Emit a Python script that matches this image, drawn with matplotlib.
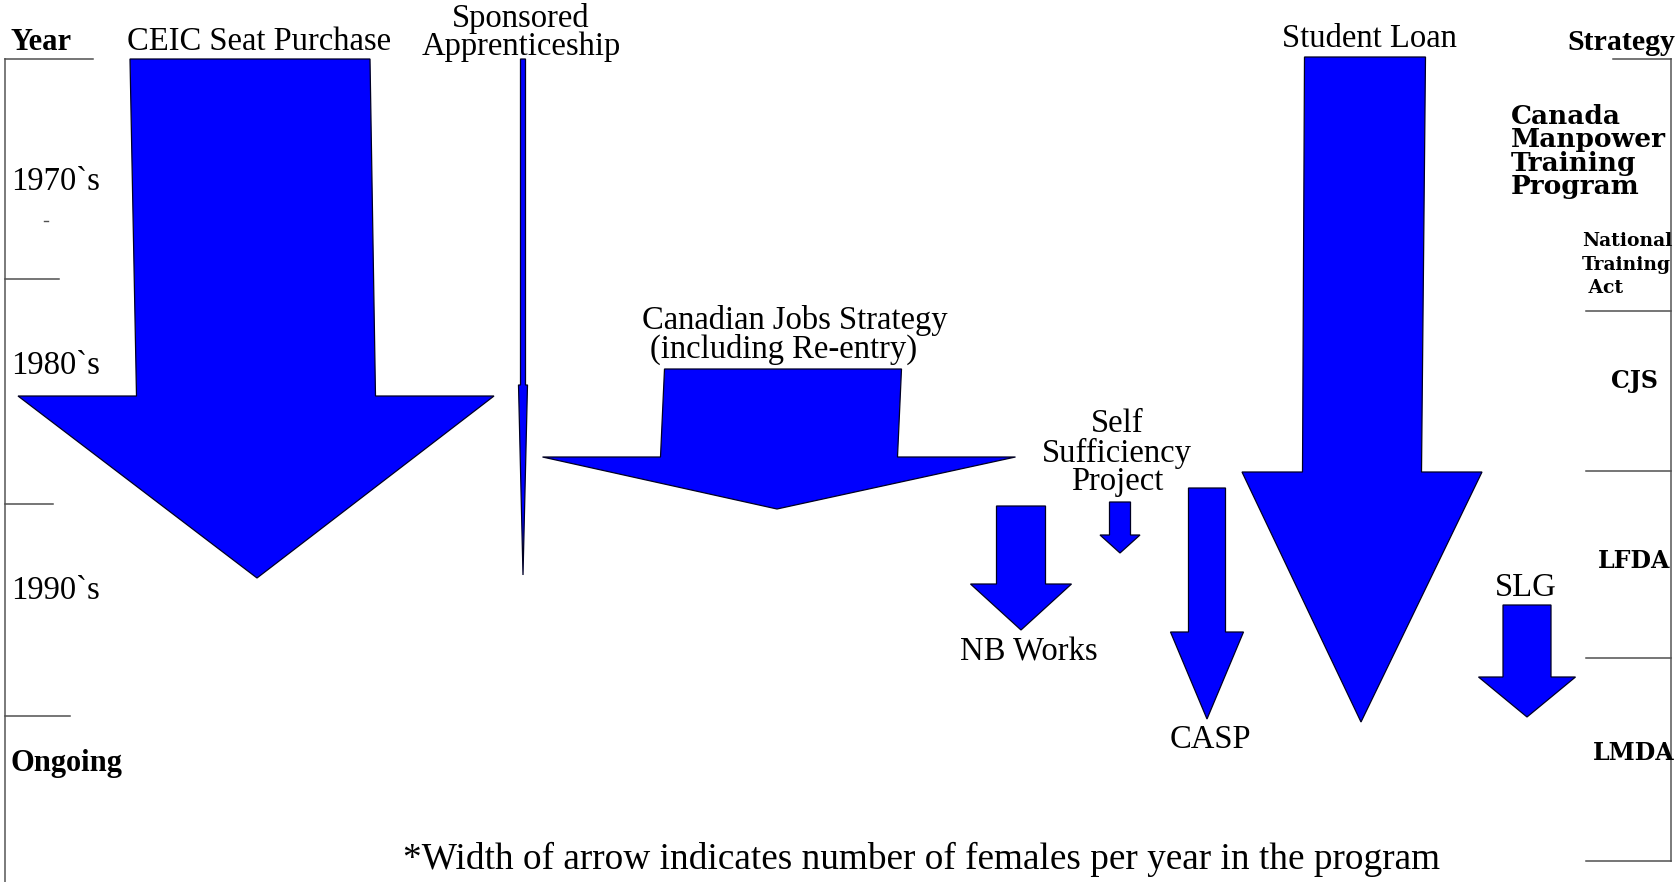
import matplotlib; matplotlib.use("Agg")
import matplotlib.pyplot as plt
from matplotlib.patches import Polygon

# arrow geometry (pixel space of the 1677x882 chart)
programs = ["CEIC Seat Purchase", "Sponsored Apprenticeship", "Canadian Jobs Strategy",
            "NB Works", "Self Sufficiency Project", "CASP", "Student Loan", "SLG"]
top_cx = [250, 523, 783, 1021, 1120, 1207, 1365, 1527]
top_w = [240, 5, 237, 49, 21, 37, 121, 48]
neck_cx = [256, 523, 779, 1021, 1120, 1207, 1362, 1527]
neck_w = [239, 5, 237, 49, 21, 37, 119, 48]
start_y = [59, 59, 369, 506, 502, 488, 57, 605]
head_y = [396, 385, 457, 584, 535, 632, 472, 677]
head_w = [476, 9, 473, 101, 40, 73, 240, 97]
tip_x = [257, 523, 777, 1021, 1120, 1207, 1361, 1527]
tip_y = [578, 575, 509, 630, 553, 719, 722, 717]

decades = ["Year", "1970`s", "1980`s", "1990`s", "Ongoing"]
decade_y = [42, 182, 366, 591, 763]
decade_bold = [True, False, False, False, True]
left_ticks_y = [59, 279, 504, 716]
left_ticks_len = [93, 59, 53, 70]

strategies = ["CJS", "LFDA", "LMDA"]
strategy_y = [381, 561, 753]
right_ticks_y = [59, 311, 471, 658, 861]

BLUE = "#0000FF"
SERIF = ["Liberation Serif", "DejaVu Serif"]

fig = plt.figure(figsize=(16.77, 8.82), dpi=100)
ax = fig.add_axes([0, 0, 1, 1])
ax.set_xlim(0, 1677); ax.set_ylim(882, 0); ax.axis("off")

# arrows
for i in range(len(programs)):
    pts = [(top_cx[i] - top_w[i] / 2, start_y[i]), (top_cx[i] + top_w[i] / 2, start_y[i]),
           (neck_cx[i] + neck_w[i] / 2, head_y[i]), (neck_cx[i] + head_w[i] / 2, head_y[i]),
           (tip_x[i], tip_y[i]),
           (neck_cx[i] - head_w[i] / 2, head_y[i]), (neck_cx[i] - neck_w[i] / 2, head_y[i])]
    ax.add_patch(Polygon(pts, closed=True, fc=BLUE, ec="#000022", lw=0.9, zorder=2))

# left year scale
ax.plot([5, 5], [59, 882], color="#707070", lw=1.3)
for y, ln in zip(left_ticks_y, left_ticks_len):
    ax.plot([5, ln], [y, y], color="#505050", lw=1.1)
ax.plot([44, 48], [221, 221], color="#505050", lw=1)
for lab, y, b in zip(decades, decade_y, decade_bold):
    ax.text(11, y, lab, family=SERIF, fontsize=23.5 if not b else 22,
            weight="bold" if b else "normal", va="center", ha="left")

# right strategy scale
ax.plot([1671, 1671], [59, 861], color="#707070", lw=1.3)
for y in right_ticks_y:
    ax.plot([1613 if y == 59 else 1586, 1671], [y, y], color="#505050", lw=1.1)
RFONT = dict(family=["DejaVu Serif"], weight="bold", fontsize=19, va="center")
ax.text(1675, 42, "Strategy", family=SERIF, weight="bold", fontsize=21.5,
        va="center", ha="right")
for k, line in enumerate(["Canada", "Manpower", "Training", "Program"]):
    ax.text(1511, 116 + 23.5 * k, line, **RFONT)
for k, line in enumerate(["National", "Training", " Act"]):
    ax.text(1582, 241 + 23.5 * k, line, fontsize=13.5, family=["DejaVu Serif"],
            weight="bold", va="center")
for lab, y in zip(strategies, strategy_y):
    ax.text(1634, y, lab, ha="center", family=["DejaVu Serif"], weight="bold",
            fontsize=17, va="center")

# program labels
TFONT = dict(family=SERIF, fontsize=23.5, ha="center", va="center")
ax.text(259, 42, "CEIC Seat Purchase", **TFONT)
ax.text(521, 18, "Sponsored", **TFONT)
ax.text(521, 47, "Apprenticeship", **TFONT)
ax.text(795, 320, "Canadian Jobs Strategy", **TFONT)
ax.text(784, 349, "(including Re-entry)", **TFONT)
for k, line in enumerate(["Self", "Sufficiency", "Project"]):
    ax.text(1117, 424 + 29 * k, line, **TFONT)
ax.text(1029, 652, "NB Works", **TFONT)
ax.text(1210, 740, "CASP", **TFONT)
ax.text(1369, 39, "Student Loan", **TFONT)
ax.text(1526, 588, "SLG", **TFONT)

ax.text(922, 859, "*Width of arrow indicates number of females per year in the program",
        family=SERIF, fontsize=26.8, ha="center", va="center")

fig.savefig("out.png", dpi=100)
